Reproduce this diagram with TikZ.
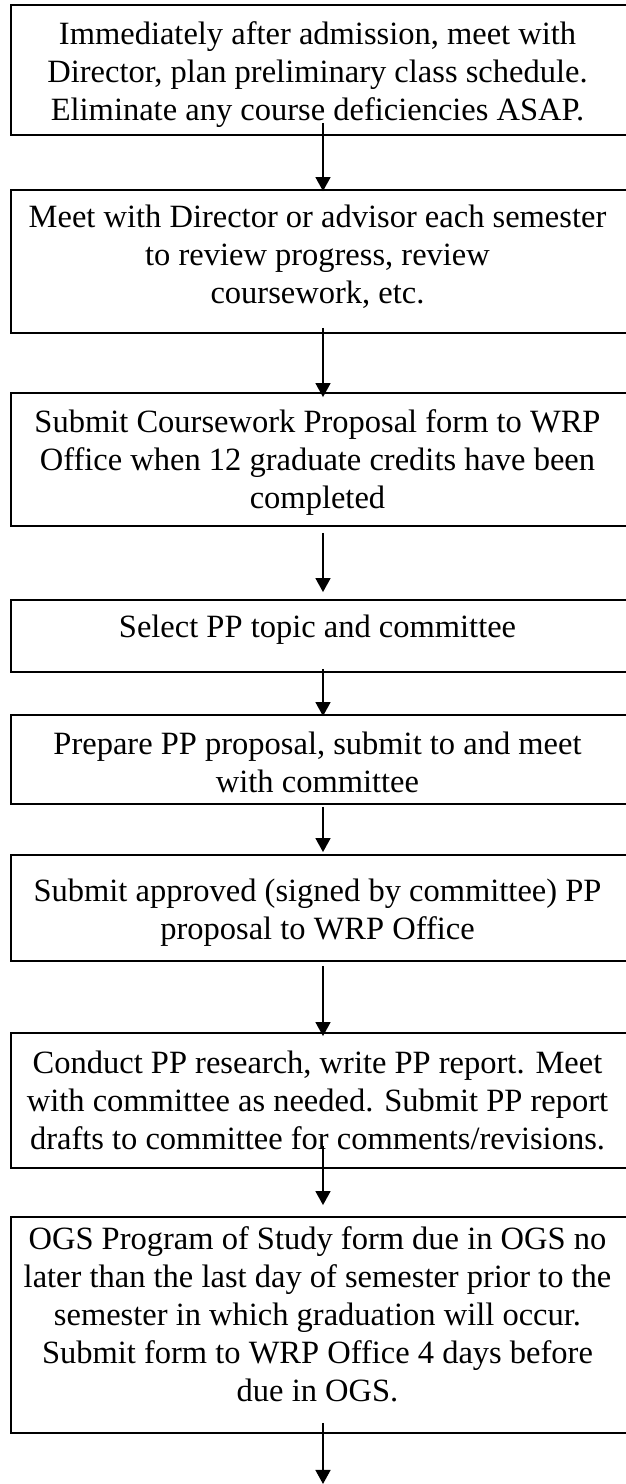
\documentclass[tikz,border=0pt]{standalone}
\usepackage{fontspec}
\setmainfont{Liberation Serif}
\usetikzlibrary{arrows.meta,calc}
\begin{document}
\begin{tikzpicture}[x=1pt,y=-1pt,
  stepbox/.style={draw,line width=1.9pt,minimum width=624pt,inner sep=0pt},
  steptext/.style={align=center,inner sep=0pt,font=\fontsize{32.5}{38}\selectfont},
  conn/.style={line width=1.6pt,-{Triangle[width=15pt,length=14pt]}}]
\useasboundingbox (0,0) rectangle (625,1484);
% boxes
\node[stepbox,minimum height=130pt] (b1) at (323,70) {};
\node[stepbox,minimum height=143pt] (b2) at (323,261.5) {};
\node[stepbox,minimum height=133pt] (b3) at (323,459.5) {};
\node[stepbox,minimum height=72pt]  (b4) at (323,636) {};
\node[stepbox,minimum height=89pt]  (b5) at (323,759.5) {};
\node[stepbox,minimum height=106pt] (b6) at (323,908) {};
\node[stepbox,minimum height=135pt] (b7) at (323,1100.5) {};
\node[stepbox,minimum height=216pt] (b8) at (323,1325) {};
% texts
\node[steptext] (t1) at ($(b1.center)+(-5.5,5)$)
  {Immediately after admission, meet with\\Director, plan preliminary class schedule.\\Eliminate any course deficiencies ASAP.};
\node[steptext] (t2) at ($(b2.center)+(-5.5,-5)$)
  {Meet with Director or advisor each semester\\to review progress, review\\coursework, etc.};
\node[steptext] (t3) at ($(b3.center)+(-5.5,3)$)
  {Submit Coursework Proposal form to WRP\\Office when 12 graduate credits have been\\completed};
\node[steptext] (t4) at ($(b4.center)+(-5.5,-6)$)
  {Select PP topic and committee};
\node[steptext] (t5) at ($(b5.center)+(-5.5,3)$)
  {Prepare PP proposal, submit to and meet\\with committee};
\node[steptext] (t6) at ($(b6.center)+(-5.5,5)$)
  {Submit approved (signed by committee) PP\\proposal to WRP Office};
\node[steptext] (t7) at ($(b7.center)+(-5.5,0)$)
  {Conduct PP research, write PP report. Meet\\with committee as needed. Submit PP report\\drafts to committee for comments/revisions.};
\node[steptext] (t8) at ($(b8.center)+(-5.5,-11)$)
  {OGS Program of Study form due in OGS no\\later than the last day of semester prior to the\\semester in which graduation will occur.\\Submit form to WRP Office 4 days before\\due in OGS.};
% connector ends
\coordinate (s1) at ($(b1.south)+(0,-13)$);
\coordinate (e1) at ($(b2.north)+(0,2)$);
\coordinate (s2) at ($(b2.south)+(0,-6)$);
\coordinate (e2) at ($(b3.north)+(0,5)$);
\coordinate (s3) at ($(b3.south)+(0,6)$);
\coordinate (e3) at ($(b4.north)+(0,-7)$);
\coordinate (s4) at ($(b4.south)+(0,-4)$);
\coordinate (e4) at ($(b5.north)+(0,2)$);
\coordinate (s5) at ($(b5.south)+(0,2)$);
\coordinate (e5) at ($(b6.north)+(0,-2)$);
\coordinate (s6) at ($(b6.south)+(0,4)$);
\coordinate (e6) at ($(b7.north)+(0,4)$);
\coordinate (s7) at ($(b7.south)+(0,-23)$);
\coordinate (e7) at ($(b8.north)+(0,-11)$);
\coordinate (s8) at ($(b8.south)+(0,-11)$);
\coordinate (e8) at ($(b8.south)+(0,50)$);
\draw[conn] (s1) -- (e1);
\draw[conn] (s2) -- (e2);
\draw[conn] (s3) -- (e3);
\draw[conn] (s4) -- (e4);
\draw[conn] (s5) -- (e5);
\draw[conn] (s6) -- (e6);
\draw[conn] (s7) -- (e7);
\draw[conn] (s8) -- (e8);
\end{tikzpicture}
\end{document}
